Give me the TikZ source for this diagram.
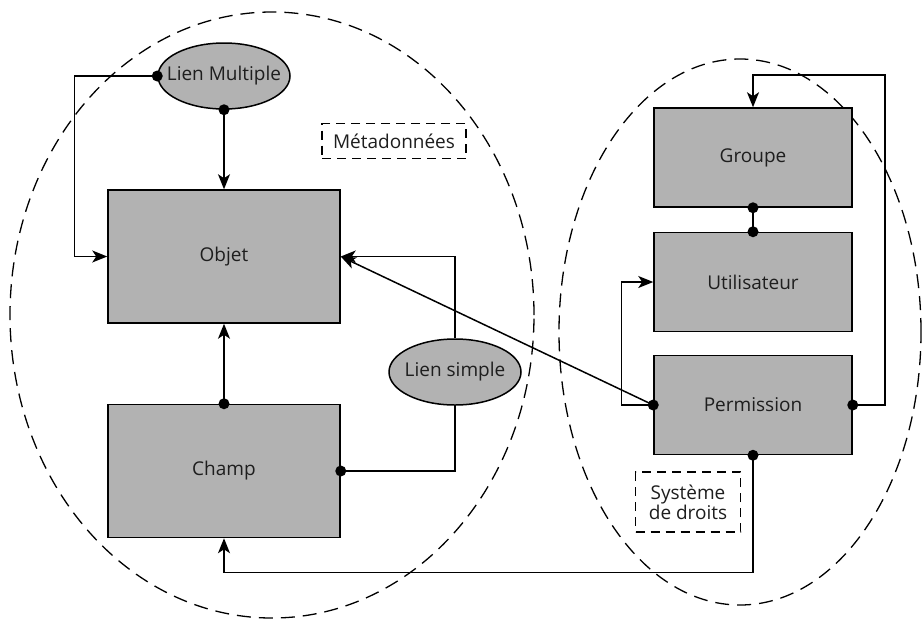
\documentclass[tikz,border=0pt]{standalone}
\usepackage{fontspec}
\setmainfont{Open Sans}
\usetikzlibrary{arrows.meta,shapes.geometric}
\definecolor{gris}{RGB}{178,178,178}
\definecolor{encre}{RGB}{30,30,30}
\tikzset{
  boite/.style={draw, fill=gris, line width=1.5pt, minimum width=232pt, minimum height=133pt},
  petiteboite/.style={boite, minimum width=198pt, minimum height=99pt},
  lien/.style={draw, fill=gris, ellipse, line width=1.5pt, inner xsep=-11pt, inner ysep=0pt, minimum width=132pt, minimum height=66pt},
  cadre/.style={draw, line width=1.5pt, dash pattern=on 9pt off 6pt, align=center},
  zone/.style={line width=1.3pt, dash pattern=on 14pt off 8pt},
  fleche/.style={line width=1.5pt, -{Stealth[length=15pt,width=12pt,inset=4pt]}},
  trait/.style={line width=1.5pt},
}
\begin{document}
\begin{tikzpicture}[x=1pt, y=-1pt, font=\fontsize{19}{23}\selectfont, text=encre]
            \useasboundingbox (0,0) rectangle (923,622);

            % Zones
            \draw[zone] (272,315) ellipse [x radius=262pt, y radius=303pt];
            \draw[zone] (740,332) ellipse [x radius=181pt, y radius=273pt];

            % Métadonnées
            \node[boite] (objet) at (224,256.5) {Objet};
            \node[boite] (champ) at (224,471) {Champ};
            \node[lien] (lm) at (224,76) {Lien Multiple};
            \node[lien] (ls) at (455,372) {Lien simple};
            \node[cadre, minimum width=144pt, minimum height=35pt] (meta) at (394,141) {Métadonnées};

            % Système de droits
            \node[petiteboite] (groupe) at (753,157.5) {Groupe};
            \node[petiteboite] (util) at (753,282) {Utilisateur};
            \node[petiteboite] (perm) at (753,405) {Permission};
            \node[cadre, minimum width=105pt, minimum height=60pt, inner sep=2pt] (droits) at (688,502) {Système\\[-3pt]de droits};

            % Liens
            \draw[fleche] (lm.west) -- ++(-83,0) |- (objet.west);
            \draw[fleche] (lm.south) -- (objet.north);
            \draw[fleche] (champ.north) -- (objet.south);
            \draw[trait] (champ.east) -| (ls.south);
            \draw[fleche] (ls.north) |- (objet.east);
            \draw[fleche] (perm.west) -- (objet.east);
            \draw[fleche] (perm.west) -- ++(-32,0) |- (util.west);
            \draw[trait] (groupe.south) -- (util.north);
            \draw[fleche] (perm.east) -- ++(32,0) -- ++(0,-330) -| (groupe.north);
            \draw[fleche] (perm.south) -- ++(0,117) -| (champ.south);

            % Points
            \foreach \p in {lm.west, lm.south, champ.north, champ.east, perm.west, perm.east, perm.south, groupe.south, util.north}
                \fill (\p) circle (5.5pt);

        \end{tikzpicture}
\end{document}
